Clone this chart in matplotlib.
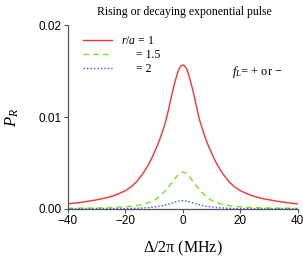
import matplotlib
matplotlib.use("Agg")
import matplotlib.pyplot as plt
from matplotlib.ticker import FormatStrFormatter

plt.rcParams['mathtext.fontset'] = 'custom'
plt.rcParams['mathtext.rm'] = 'Liberation Serif'
plt.rcParams['mathtext.it'] = 'Liberation Serif:italic'

# Detuning (MHz), non-negative half; the curves are symmetric about zero
det_half = [0, 0.5, 1, 1.5, 2, 2.5, 3, 3.5, 4, 4.5, 5, 5.5, 6, 7, 8, 9, 10, 11, 12, 13, 14,
            15, 16, 17, 18, 19, 20, 22, 24, 26, 28, 30, 32, 34, 36, 38, 40]
pr1_half = [0.01565, 0.0156, 0.0154, 0.0151, 0.0146, 0.0141, 0.0135, 0.0129, 0.0122, 0.0115,
            0.0108, 0.0101, 0.0095, 0.0085, 0.0076, 0.0068, 0.0061, 0.0054, 0.0048, 0.0043,
            0.0038, 0.0034, 0.0030, 0.0027, 0.0024, 0.0022, 0.0020, 0.0017, 0.00145, 0.00127,
            0.00112, 0.00100, 0.00089, 0.00079, 0.00070, 0.00062, 0.00055]
pr15_half = [0.0040, 0.00398, 0.0039, 0.00375, 0.0036, 0.0034, 0.0032, 0.0030, 0.0028, 0.0026,
             0.0024, 0.0022, 0.0020, 0.0017, 0.0014, 0.00115, 0.00095, 0.00080, 0.00068, 0.00058,
             0.00050, 0.00044, 0.00038, 0.00034, 0.00030, 0.00027, 0.00024, 0.00020, 0.00017,
             0.00015, 0.00013, 0.00012, 0.00011, 0.00010, 0.00009, 0.00008, 0.00007]
pr2_half = [0.00090, 0.000895, 0.00088, 0.00085, 0.00082, 0.00077, 0.00072, 0.00067, 0.00062,
            0.00057, 0.00052, 0.00048, 0.00044, 0.00037, 0.00031, 0.00026, 0.00021, 0.00018,
            0.00015, 0.00013, 0.00011, 0.000095, 0.00008, 0.00007, 0.00006, 0.000055, 0.00005,
            0.00004, 0.000035, 0.00003, 0.000027, 0.000024, 0.000021, 0.000019, 0.000017,
            0.000015, 0.000014]

detuning = [-d for d in det_half[:0:-1]] + det_half
p_r1 = pr1_half[:0:-1] + pr1_half
p_r15 = pr15_half[:0:-1] + pr15_half
p_r2 = pr2_half[:0:-1] + pr2_half

labels = [r"$r/a$ = 1", "     = 1.5", "     = 2"]
xticks = [-40, -20, 0, 20, 40]
yticks = [0.00, 0.01, 0.02]

fig = plt.figure(figsize=(3.03, 2.58), dpi=100)
ax = fig.add_axes([0.2244, 0.19, 0.758, 0.713])

ax.plot(detuning, p_r1, color='#ff3030', lw=1.0, label=labels[0])
ax.plot(detuning, p_r15, color='#77e619', lw=1.0, ls=(0, (4, 3)), label=labels[1])
ax.plot(detuning, p_r2, color='#3b4cff', lw=1.0, ls=(0, (1, 1.5)), label=labels[2])

ax.set_xlim(-40, 40)
ax.set_ylim(0, 0.02)
ax.set_xticks(xticks)
ax.set_yticks(yticks)
ax.yaxis.set_major_formatter(FormatStrFormatter('%.2f'))
for s in ['top', 'right']:
    ax.spines[s].set_visible(False)
for s in ['left', 'bottom']:
    ax.spines[s].set_color('#555555')
    ax.spines[s].set_linewidth(0.9)
ax.tick_params(direction='out', length=3, width=0.8, color='#555555', pad=1.5,
               labelsize=8.5)
for lab in ax.get_xticklabels() + ax.get_yticklabels():
    lab.set_family('Liberation Sans')

ax.set_xlabel(r"$\Delta$/2π (MHz)", family='Liberation Serif', fontsize=11.5, labelpad=8)
ax.set_ylabel(r"$P_R$", fontsize=12, labelpad=13)
fig.text(0.61, 0.955, "Rising or decaying exponential pulse", family='Liberation Serif',
         fontsize=8.5, ha='center', va='center')

leg = ax.legend(loc='upper left', bbox_to_anchor=(0.02, 1.005), frameon=False,
                handlelength=2.4, handletextpad=0.8, labelspacing=0.2,
                prop={'family': 'Liberation Serif', 'size': 8.5})

ax.text(0.715, 0.745, r"$f_L$= + or −", transform=ax.transAxes,
        family='Liberation Serif', fontsize=9, ha='left', va='center')

fig.savefig("out.png", dpi=100)
